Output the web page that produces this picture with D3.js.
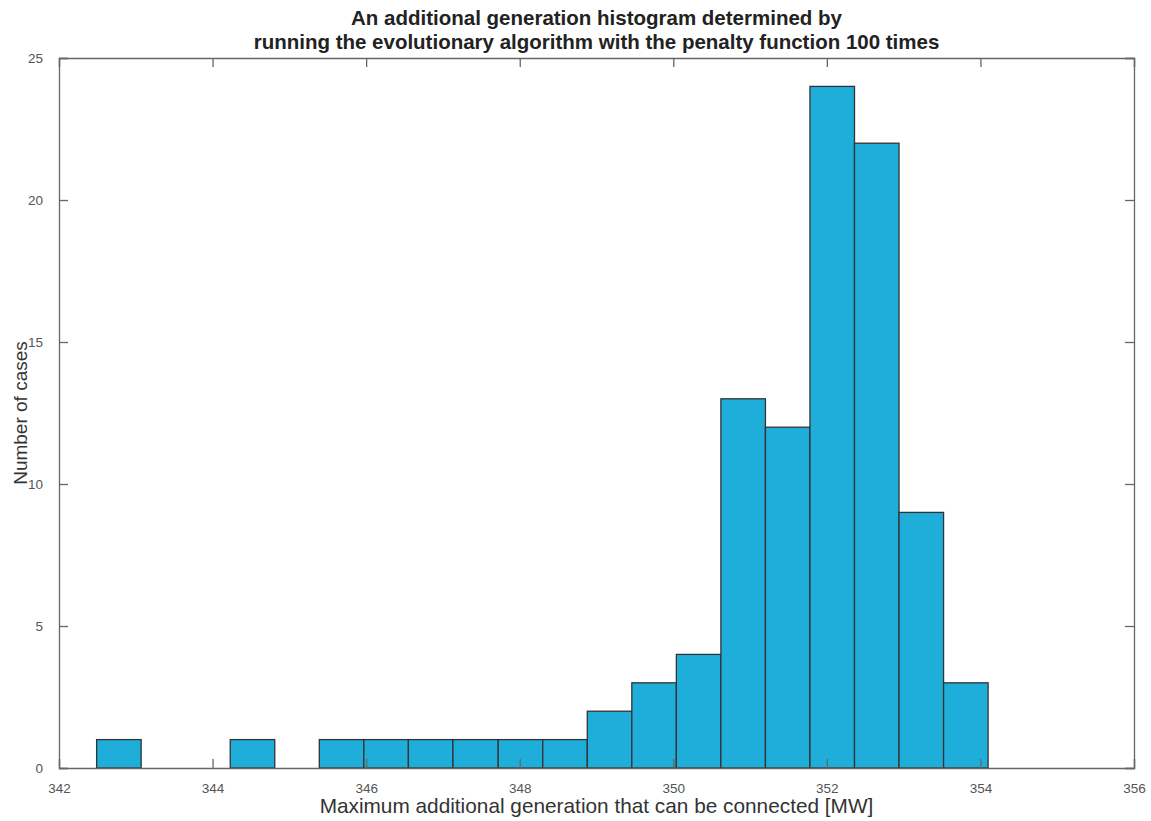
<!DOCTYPE html>
<html lang="en">
<head>
<meta charset="UTF-8">
<title>Histogram</title>
<script src="https://d3js.org/d3.v7.min.js"></script>
<style>
body{margin:0; background:#fff;}
svg text{font-family:"Liberation Sans", Arial, sans-serif;}
</style>
</head>
<body>
<div id="chart"></div>
<script>
// histogram data
var binEdges = [342.49, 343.07, 343.65, 344.23, 344.81, 345.39, 345.97, 346.55, 347.13, 347.72,
                348.30, 348.88, 349.46, 350.04, 350.62, 351.20, 351.78, 352.36, 352.94, 353.52, 354.10];
var counts = [1, 0, 0, 1, 0, 1, 1, 1, 1, 1, 1, 2, 3, 4, 13, 12, 24, 22, 9, 3];
var xTicks = [342, 344, 346, 348, 350, 352, 354, 356];
var yTicks = [0, 5, 10, 15, 20, 25];
var titleLines = ["An additional generation histogram determined by",
                  "running the evolutionary algorithm with the penalty function 100 times"];

var W = 1151, H = 821;
var m = {left: 59, right: 17, top: 58, bottom: 53};
var w = W - m.left - m.right, h = H - m.top - m.bottom;

var svg = d3.select("#chart").append("svg")
	.attr("width", W)
	.attr("height", H);

var x = d3.scaleLinear().domain([342, 356]).range([m.left, m.left + w]);
var y = d3.scaleLinear().domain([0, 25]).range([m.top + h, m.top]);

var bins = counts.map(function(c, i){
	return {x0: binEdges[i], x1: binEdges[i + 1], n: c};
});

// bars (empty bins draw as a flat line at 0)
svg.selectAll("rect.bar")
	.data(bins)
	.enter()
	.append("rect")
	.attr("class", "bar")
	.attr("x", function(d){ return x(d.x0); })
	.attr("y", function(d){ return y(d.n); })
	.attr("width", function(d){ return x(d.x1) - x(d.x0); })
	.attr("height", function(d){ return y(0) - y(d.n); })
	.attr("fill", "#1eaed9")
	.attr("stroke", "#333")
	.attr("stroke-width", 1.3);

var axisCol = "#666";
var tickLen = 9;

// box + inward ticks, matlab style
var gx = svg.append("g").attr("transform", "translate(0," + y(0) + ")")
	.call(d3.axisBottom(x).tickValues(xTicks).tickSize(-tickLen).tickPadding(tickLen + 6).tickFormat(d3.format("d")));
var gxTop = svg.append("g").attr("transform", "translate(0," + y(25) + ")")
	.call(d3.axisTop(x).tickValues(xTicks).tickSize(-tickLen).tickFormat(""));
var gy = svg.append("g").attr("transform", "translate(" + x(342) + ",0)")
	.call(d3.axisLeft(y).tickValues(yTicks).tickSize(-tickLen).tickPadding(tickLen + 7));
var gyRight = svg.append("g").attr("transform", "translate(" + x(356) + ",0)")
	.call(d3.axisRight(y).tickValues(yTicks).tickSize(-tickLen).tickFormat(""));

[gx, gxTop, gy, gyRight].forEach(function(g){
	g.select(".domain").attr("stroke", axisCol).attr("stroke-width", 1.3);
	g.selectAll(".tick line").attr("stroke", axisCol).attr("stroke-width", 1.3);
	g.selectAll(".tick text").attr("fill", "#555").style("font-size", "13.5px");
});

// labels
svg.append("text")
	.attr("x", m.left + w / 2)
	.attr("y", 813)
	.attr("text-anchor", "middle")
	.style("font-size", "20.8px")
	.attr("fill", "#333")
	.text("Maximum additional generation that can be connected [MW]");

svg.append("text")
	.attr("transform", "translate(27," + (m.top + h / 2) + ") rotate(-90)")
	.attr("text-anchor", "middle")
	.style("font-size", "19px")
	.attr("fill", "#333")
	.text("Number of cases");

svg.selectAll("text.title")
	.data(titleLines)
	.enter()
	.append("text")
	.attr("class", "title")
	.attr("x", m.left + w / 2)
	.attr("y", function(d, i){ return 25 + i * 24; })
	.attr("text-anchor", "middle")
	.style("font-size", "20.5px")
	.style("font-weight", "bold")
	.attr("fill", "#222")
	.text(function(d){ return d; });
</script>
</body>
</html>
